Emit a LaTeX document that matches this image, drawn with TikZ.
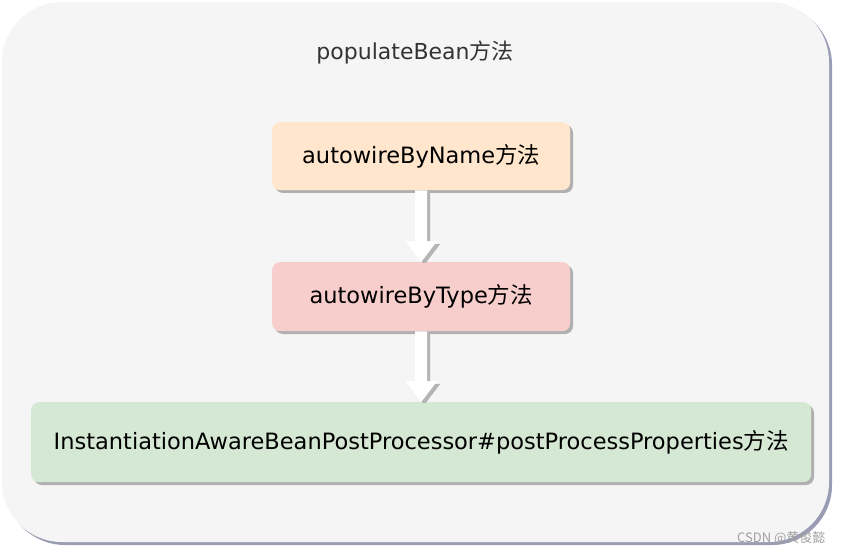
\documentclass[tikz,border=0pt]{standalone}
\usepackage{fontspec}
\setmainfont{DejaVu Sans}
\newfontfamily\cjk{Noto Sans CJK SC}
\usetikzlibrary{calc}
\definecolor{bgfill}{HTML}{F5F5F5}
\definecolor{orangefill}{HTML}{FFE6CC}
\definecolor{redfill}{HTML}{F8CECC}
\definecolor{greenfill}{HTML}{D5E8D4}
\definecolor{outershadow}{HTML}{9A9CB4}
\definecolor{boxshadow}{HTML}{B0B0B0}
\definecolor{arrowshadow}{HTML}{B4B4B4}
\definecolor{wmark}{HTML}{A0A0A0}
\tikzset{
  x=1pt, y=-1pt,
  stepbox/.style={rounded corners=8pt, draw=none, inner sep=0pt, font=\fontsize{22.5}{26}\selectfont, text=black},
}
\begin{document}
\begin{tikzpicture}
\useasboundingbox (0,0) rectangle (843,556);
% outer container
\fill[outershadow, rounded corners=60pt] (5,5) rectangle (832,545);
\fill[bgfill, rounded corners=60pt] (2,2) rectangle (829,542);
\node[text=black!80] (title) at (415,52) {\fontsize{22}{26}\selectfont populateBean{\cjk 方法}};
% boxes with shadows
\fill[boxshadow, rounded corners=8pt] (275,125) rectangle (573,193);
\node[stepbox, fill=orangefill, minimum width=298pt, minimum height=68pt, anchor=north west] (n1) at (272,122) {autowireByName{\cjk 方法}};
\fill[boxshadow, rounded corners=8pt] (275,265) rectangle (573,334);
\node[stepbox, fill=redfill, minimum width=298pt, minimum height=69pt, anchor=north west] (n2) at (272,262) {autowireByType{\cjk 方法}};
\fill[boxshadow, rounded corners=8pt] (34,405) rectangle (814,485);
\node[stepbox, fill=greenfill, minimum width=780pt, minimum height=80pt, anchor=north west] (n3) at (31,402) {InstantiationAwareBeanPostProcessor\#postProcessProperties{\cjk 方法}};
% block arrows
\foreach \a/\b in {n1/n2, n2/n3}{
  \path (\a.south) coordinate (s) (\b.north) coordinate (e);
  \begin{scope}
    \clip ($(s)+(-30,0)$) rectangle ($(e)+(30,0)$);
    \fill[arrowshadow] ($(s)+(-3,-3)$) -- ($(s)+(9,-3)$) -- ($(e)+(9,-18)$) -- ($(e)+(19,-18)$) -- ($(e)+(3,3)$) -- ($(e)+(-13,-18)$) -- ($(e)+(-3,-18)$) -- cycle;
  \end{scope}
  \fill[white] ($(s)+(-6,0)$) -- ($(s)+(6,0)$) -- ($(e)+(6,-21)$) -- ($(e)+(16,-21)$) -- (e) -- ($(e)+(-16,-21)$) -- ($(e)+(-6,-21)$) -- cycle;
}
\node[text=wmark, font=\cjk\fontsize{13}{15}\selectfont, anchor=east] (wm) at (829,538) {CSDN @黄俊懿};
\end{tikzpicture}
\end{document}
